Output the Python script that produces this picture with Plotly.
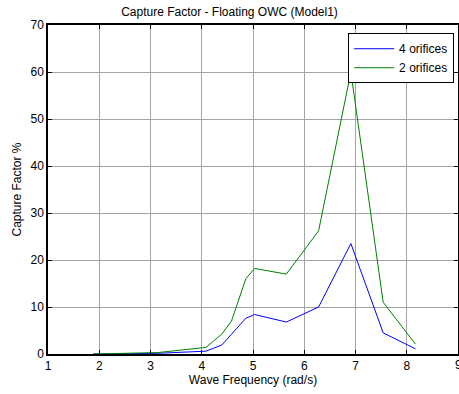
import plotly.graph_objects as go

# Wave frequency (rad/s) and capture factor (%) for each orifice configuration
freq = [1.88, 2.51, 3.14, 4.08, 4.39, 4.58, 4.86, 5.03, 5.65, 6.28, 6.91, 7.54, 8.17]
cf_4_orifices = [0.0, 0.05, 0.15, 0.6, 1.9, 4.2, 7.6, 8.4, 6.8, 10.0, 23.5, 4.5, 1.1]
cf_2_orifices = [0.0, 0.1, 0.3, 1.4, 4.2, 7.0, 16.0, 18.2, 17.0, 26.2, 60.0, 11.0, 2.1]

x_ticks = [1, 2, 3, 4, 5, 6, 7, 8]
x_last_tick = 9
y_ticks = [0, 10, 20, 30, 40, 50, 60, 70]

font_family = "Liberation Sans, Arial, sans-serif"

fig = go.Figure()
fig.add_trace(go.Scatter(x=freq, y=cf_4_orifices, mode="lines", name="4 orifices",
                         line=dict(color="#0000ff", width=1)))
fig.add_trace(go.Scatter(x=freq, y=cf_2_orifices, mode="lines", name="2 orifices",
                         line=dict(color="#008000", width=1)))

axis_common = dict(
    showline=True, linecolor="black", linewidth=1.5, mirror="ticks",
    ticks="inside", ticklen=4, tickcolor="black",
    showgrid=True, gridcolor="#a4a4a4", gridwidth=1,
    zeroline=False, tickfont=dict(size=12, color="black", family=font_family),
)

fig.update_layout(
    width=459, height=394,
    margin=dict(l=48, r=1, t=25, b=40, autoexpand=False),
    paper_bgcolor="white", plot_bgcolor="white",
    font=dict(family=font_family, size=12, color="black"),
    title=dict(text="Capture Factor - Floating OWC (Model1)", x=0.5, xanchor="center",
               y=0.97, yanchor="middle", font=dict(size=12, color="black")),
    xaxis=dict(range=[1, 9], tickvals=x_ticks + [x_last_tick],
               title=dict(text="Wave Frequency (rad/s)", standoff=3,
                          font=dict(size=12)),
               **axis_common),
    yaxis=dict(range=[0, 70], tickvals=y_ticks,
               title=dict(text="Capture Factor %", standoff=6,
                          font=dict(size=12)),
               **axis_common),
    legend=dict(x=0.732, y=0.975, xanchor="left", yanchor="top",
                bgcolor="white", bordercolor="black", borderwidth=1,
                font=dict(size=12, color="black"),
                itemwidth=40, tracegroupgap=0),
    showlegend=True,
)

# The last tick label sits on the right edge of the figure and is partly cut off
fig.add_annotation(x=x_last_tick, y=0, xref="x", yref="y", text=str(x_last_tick),
                   showarrow=False, yanchor="top", xanchor="center", yshift=-2,
                   font=dict(size=12, color="black", family=font_family))

fig.write_html("out.html")
